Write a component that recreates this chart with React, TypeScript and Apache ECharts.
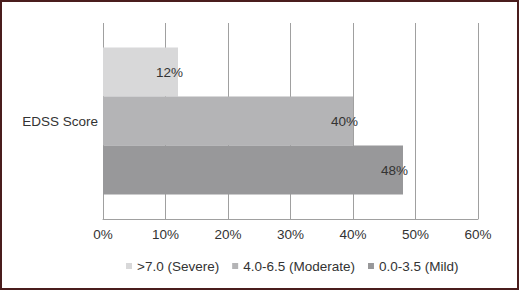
import React, { useEffect, useRef } from "react";
import * as echarts from "echarts";

const categories = ["EDSS Score"];
const seriesNames = [">7.0 (Severe)", "4.0-6.5 (Moderate)", "0.0-3.5 (Mild)"];
const severeValues = [12];
const moderateValues = [40];
const mildValues = [48];
const seriesColors = ["#d8d8d9", "#b4b4b6", "#98989a"];
const xTicks = [0, 10, 20, 30, 40, 50, 60];

export default function App() {
  const ref = useRef<HTMLDivElement>(null);
  useEffect(() => {
    if (!ref.current) return;
    const chart = echarts.init(ref.current, null, { renderer: "svg" });
    const font = "'Liberation Sans', Arial, sans-serif";
    const values = [severeValues, moderateValues, mildValues];
    chart.setOption({
      animation: false,
      backgroundColor: "#ffffff",
      textStyle: { fontFamily: font },
      graphic: [
        {
          type: "rect",
          shape: { x: 1, y: 1, width: 517, height: 288 },
          style: { fill: "none", stroke: "#4a1d1d", lineWidth: 2 },
          silent: true,
        },
      ],
      grid: { left: 103, right: 41, top: 23, bottom: 71, containLabel: false },
      legend: {
        data: seriesNames,
        left: 121,
        top: 254,
        icon: "rect",
        itemWidth: 6,
        itemHeight: 6,
        itemGap: 13,
        textStyle: { fontFamily: font, fontSize: 13.5, color: "#333333" },
      },
      xAxis: {
        type: "value",
        min: xTicks[0],
        max: xTicks[xTicks.length - 1],
        interval: 10,
        axisLine: { show: true, lineStyle: { color: "#a0a0a0", width: 1 } },
        axisTick: { show: false },
        axisLabel: {
          formatter: (v: number) => v + "%",
          fontFamily: font,
          fontSize: 13.5,
          color: "#333333",
          margin: 8,
        },
        splitLine: { show: true, lineStyle: { color: "#a0a0a0", width: 1 } },
      },
      yAxis: {
        type: "category",
        data: categories,
        axisLine: { show: false },
        axisTick: { show: false },
        axisLabel: { fontFamily: font, fontSize: 13.5, color: "#333333", margin: 5 },
      },
      series: seriesNames.map((name, i) => ({
        name,
        type: "bar",
        data: values[i],
        barGap: "0%",
        barCategoryGap: "25%",
        itemStyle: { color: seriesColors[i] },
        label: {
          show: true,
          position: "insideRight",
          distance: 0,
          offset: [5, 0],
          formatter: (p: any) => p.value + "%",
          fontFamily: font,
          fontSize: 13.5,
          color: "#333333",
        },
      })),
    });
    return () => chart.dispose();
  }, []);
  return (
    <div
      ref={ref}
      style={{ position: "fixed", left: 0, top: 0, width: 519, height: 290 }}
    />
  );
}
